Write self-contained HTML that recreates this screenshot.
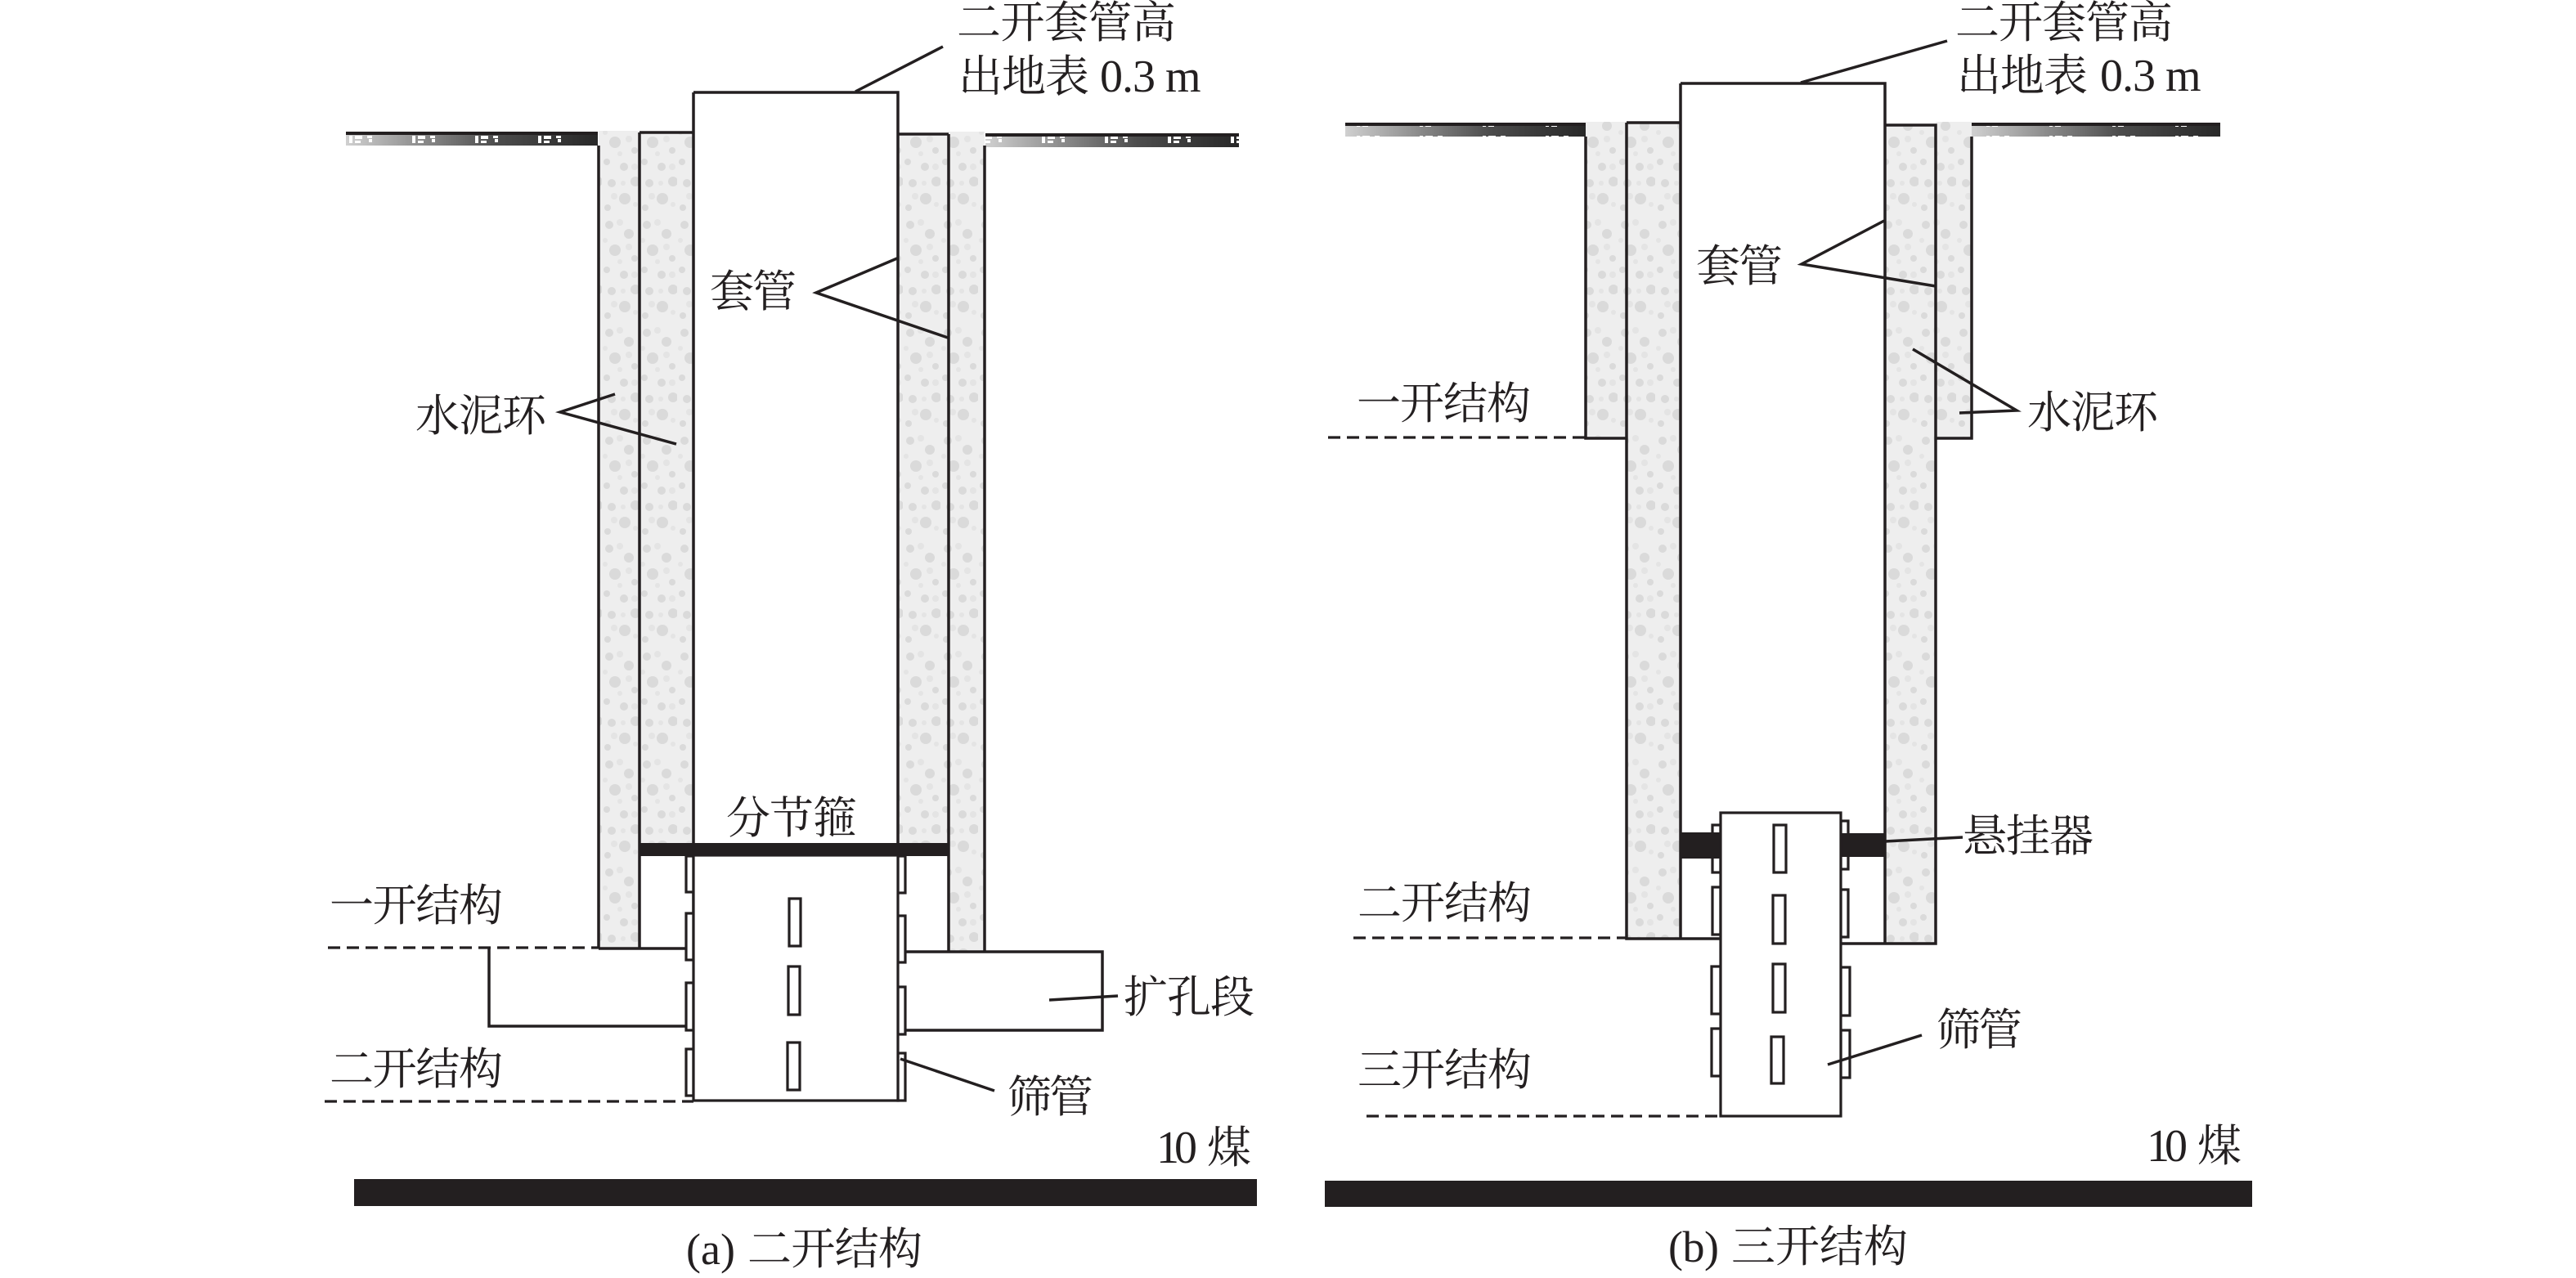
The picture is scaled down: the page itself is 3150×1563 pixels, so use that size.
<!DOCTYPE html>
<html lang="zh"><head><meta charset="utf-8"><style>
html,body{margin:0;padding:0;background:#fff;width:3150px;height:1563px;overflow:hidden}
svg{display:block}
text{font-family:"Liberation Serif","Noto Serif CJK SC",serif;font-size:54px;fill:#231f20}
.n{font-size:56px}
.l{fill:none;stroke:#231f20;stroke-width:3.5}
.t{fill:none;stroke:#231f20;stroke-width:3.5}
.d{fill:none;stroke:#231f20;stroke-width:3.2;stroke-dasharray:15 8}
.s{fill:#fff;stroke:#231f20;stroke-width:3.2}
</style></head><body>
<svg width="3150" height="1563" viewBox="0 0 3150 1563" xmlns="http://www.w3.org/2000/svg">
<defs>
<pattern id="c" patternUnits="userSpaceOnUse" width="46" height="132">
<rect width="46" height="132" fill="#eeeeee"/>
<g fill="#dadada">
<circle cx="9" cy="11" r="5"/><circle cx="33" cy="22" r="6"/><circle cx="16" cy="42" r="7"/><circle cx="40" cy="52" r="4"/>
<circle cx="6" cy="66" r="4"/><circle cx="27" cy="72" r="5"/><circle cx="41" cy="90" r="6"/><circle cx="12" cy="92" r="5"/>
<circle cx="28" cy="111" r="7"/><circle cx="7" cy="122" r="4"/>
</g>
<g fill="#e4e4e4"><circle cx="22" cy="8" r="4"/><circle cx="33" cy="38" r="4"/><circle cx="4" cy="30" r="3"/><circle cx="22" cy="56" r="3"/><circle cx="15" cy="108" r="4"/><circle cx="40" cy="72" r="4"/><circle cx="26" cy="92" r="3"/><circle cx="41" cy="118" r="3"/></g>
</pattern>
<linearGradient id="g"><stop offset="0" stop-color="#d0d0d0"/><stop offset=".3" stop-color="#8c8c8c"/><stop offset=".6" stop-color="#4c4c4c"/><stop offset="1" stop-color="#282828"/></linearGradient>
<pattern id="m" patternUnits="userSpaceOnUse" width="77" height="20" x="423" y="164">
<g fill="#fff"><rect x="4" y="2" width="4" height="9"/><rect x="11" y="2" width="9" height="4"/><rect x="11" y="8" width="7" height="3"/><rect x="26" y="2" width="6" height="3"/><rect x="28" y="6" width="4" height="4"/></g>
</pattern>
</defs>

<!-- (a) -->
<rect x="423" y="161" width="308" height="17" fill="url(#g)"/><rect x="423" y="165" width="308" height="13" fill="url(#m)"/><rect x="423" y="161" width="308" height="4" fill="#231f20"/>
<rect x="1205" y="163" width="310" height="17" fill="url(#g)"/><rect x="1205" y="167" width="310" height="13" fill="url(#m)"/><rect x="1205" y="163" width="310" height="4" fill="#231f20"/>
<rect x="732" y="160" width="50" height="1000" fill="url(#c)"/>
<rect x="782" y="161" width="66" height="870" fill="url(#c)"/>
<rect x="1098" y="163" width="62" height="868" fill="url(#c)"/>
<rect x="1160" y="161" width="44" height="1003" fill="url(#c)"/>
<path class="t" d="M732 178V1160M782 162V1160M848 113H1098V1046M848 113V1160M782 162H848M1098 164H1160M1160 164V1164M1204 178V1164"/>
<rect x="782" y="1031" width="378" height="16" fill="#231f20"/>
<!-- reaming -->
<path class="t" d="M732 1160H848M598 1160V1255H848"/>
<path class="l" d="M1098 1164H1348V1260H1098"/>
<!-- screen -->
<g class="s">
<rect x="839" y="1047" width="9" height="44"/><rect x="839" y="1117" width="9" height="57"/><rect x="839" y="1202" width="9" height="58"/><rect x="839" y="1283" width="9" height="57"/>
<rect x="1098" y="1047" width="9" height="45"/><rect x="1098" y="1120" width="9" height="57"/><rect x="1098" y="1207" width="9" height="58"/><rect x="1098" y="1288" width="9" height="58"/>
<rect x="848" y="1046" width="250" height="300"/>
<rect x="965" y="1099" width="14" height="58"/><rect x="964" y="1182" width="14" height="59"/><rect x="963" y="1275" width="15" height="58"/>
</g>
<path class="d" d="M401 1159H732"/><path class="d" d="M397 1347H848"/>
<path class="l" d="M1153 57L1046 112"/><path class="l" d="M1097 316L998 358L1159 413"/><path class="l" d="M752 482L685 504L827 543"/>
<path class="l" d="M1283 1223L1367 1218"/><path class="l" d="M1101 1295L1216 1334"/>
<rect x="433" y="1442" width="1104" height="33" fill="#231f20"/>
<text x="1170" y="46" textLength="268">二开套管高</text>
<text x="1172" y="112" textLength="160">出地表</text>
<text class="n" x="1345" y="112" textLength="68">0.3</text><text class="n" x="1425" y="112" textLength="42">m</text>
<text x="868" y="375" textLength="106">套管</text>
<text x="508" y="527" textLength="160">水泥环</text>
<text x="888" y="1019" textLength="160">分节箍</text>
<text x="403" y="1126" textLength="212">一开结构</text>
<text x="403" y="1326" textLength="212">二开结构</text>
<text x="1374" y="1238" textLength="160">扩孔段</text>
<text x="1232" y="1360" textLength="105">筛管</text>
<text class="n" x="1414" y="1422" textLength="50">10</text><text x="1476" y="1422" textLength="54">煤</text>
<text x="839" y="1546" textLength="60">(a)</text><text x="914" y="1546" textLength="214">二开结构</text>

<!-- (b) -->
<rect x="1645" y="150" width="294" height="17" fill="url(#g)"/><rect x="1645" y="154" width="294" height="13" fill="url(#m)"/><rect x="1645" y="150" width="294" height="4" fill="#231f20"/>
<rect x="2411" y="150" width="304" height="17" fill="url(#g)"/><rect x="2411" y="154" width="304" height="13" fill="url(#m)"/><rect x="2411" y="150" width="304" height="4" fill="#231f20"/>
<rect x="1939" y="149" width="50" height="387" fill="url(#c)"/>
<rect x="1989" y="150" width="66" height="998" fill="url(#c)"/>
<rect x="2305" y="153" width="62" height="1001" fill="url(#c)"/>
<rect x="2367" y="149" width="44" height="387" fill="url(#c)"/>
<path class="t" d="M1939 167V536H1989M1989 150V1148H2104M1989 150H2055M2055 102H2305V1154M2055 102V1148M2305 153H2367V1154H2305M2367 536H2411V167"/>
<path class="t" d="M2251 1154H2305"/>
<g class="s">
<rect x="2094" y="1009" width="10" height="58"/><rect x="2094" y="1085" width="10" height="58"/><rect x="2093" y="1182" width="11" height="58"/><rect x="2093" y="1258" width="11" height="58"/>
<rect x="2251" y="1004" width="9" height="59"/><rect x="2251" y="1088" width="9" height="58"/><rect x="2251" y="1183" width="11" height="59"/><rect x="2251" y="1260" width="11" height="58"/>
</g>
<rect x="2055" y="1018" width="49" height="32" fill="#231f20"/><rect x="2251" y="1019" width="54" height="29" fill="#231f20"/>
<g class="s">
<rect x="2104" y="994" width="147" height="371"/>
<rect x="2169" y="1009" width="15" height="58"/><rect x="2168" y="1095" width="15" height="59"/><rect x="2168" y="1179" width="15" height="59"/><rect x="2166" y="1268" width="15" height="57"/>
</g>
<path class="d" d="M1624 535H1939"/><path class="d" d="M1655 1147H1989"/><path class="d" d="M1671 1365H2104"/>
<path class="l" d="M2381 50L2202 101"/><path class="l" d="M2304 270L2203 323L2367 350"/><path class="l" d="M2339 427L2466 502L2396 505"/>
<path class="l" d="M2305 1029L2400 1024"/><path class="l" d="M2235 1302L2350 1266"/>
<rect x="1620" y="1444" width="1134" height="32" fill="#231f20"/>
<text x="2391" y="46" textLength="266">二开套管高</text>
<text x="2393" y="111" textLength="160">出地表</text>
<text class="n" x="2568" y="111" textLength="68">0.3</text><text class="n" x="2648" y="111" textLength="42">m</text>
<text x="2074" y="344" textLength="106">套管</text>
<text x="1659" y="512" textLength="213">一开结构</text>
<text x="2479" y="523" textLength="160">水泥环</text>
<text x="2400" y="1041" textLength="160">悬挂器</text>
<text x="1660" y="1123" textLength="213">二开结构</text>
<text x="2368" y="1278" textLength="105">筛管</text>
<text x="1660" y="1327" textLength="213">三开结构</text>
<text class="n" x="2625" y="1420" textLength="50">10</text><text x="2687" y="1420" textLength="54">煤</text>
<text x="2040" y="1543" textLength="62">(b)</text><text x="2117" y="1543" textLength="216">三开结构</text>
</svg>
</body></html>
